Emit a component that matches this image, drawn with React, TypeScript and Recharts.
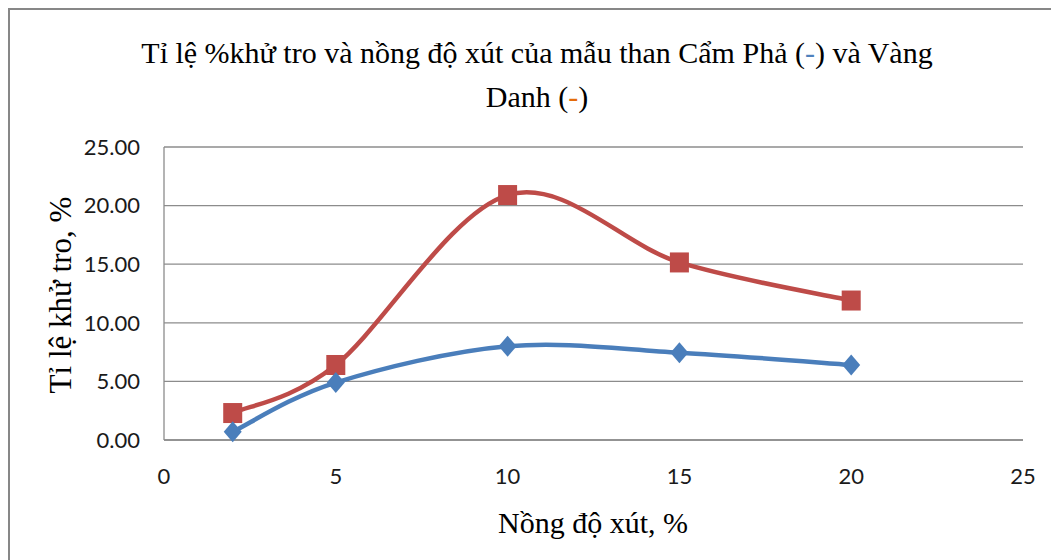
import React from 'react';
import { LineChart, Line, XAxis, YAxis, CartesianGrid } from 'recharts';

const concentrations = [2, 5, 10, 15, 20];
const campha = [0.7, 4.9, 8.0, 7.45, 6.4];
const vangDanh = [2.3, 6.4, 20.9, 15.15, 11.9];
const xTicks = [0, 5, 10, 15, 20, 25];
const yTicks = [0, 5, 10, 15, 20, 25];

const data = concentrations.map((x, i) => ({ x, campha: campha[i], vangDanh: vangDanh[i] }));

const BLUE = '#4A7EBB';
const RED = '#BE4B48';
const GRID = '#8C8C8C';
const SERIF = '"Liberation Serif", "Times New Roman", serif';
const SANS = 'Lato, "Noto Sans", sans-serif';

// Excel-like smoothed line (Catmull-Rom through the points)
const excelSmooth: any = (context: any) => {
  let pts: number[][] = [];
  return {
    areaStart() {},
    areaEnd() {},
    lineStart() {
      pts = [];
    },
    point(x: number, y: number) {
      pts.push([+x, +y]);
    },
    lineEnd() {
      const n = pts.length;
      if (!n) return;
      context.moveTo(pts[0][0], pts[0][1]);
      for (let i = 0; i < n - 1; i++) {
        const p0 = pts[Math.max(i - 1, 0)];
        const p1 = pts[i];
        const p2 = pts[i + 1];
        const p3 = pts[Math.min(i + 2, n - 1)];
        context.bezierCurveTo(
          p1[0] + (p2[0] - p0[0]) / 6,
          p1[1] + (p2[1] - p0[1]) / 6,
          p2[0] - (p3[0] - p1[0]) / 6,
          p2[1] - (p3[1] - p1[1]) / 6,
          p2[0],
          p2[1]
        );
      }
    },
  };
};

const Diamond = (props: any) => {
  const { cx, cy } = props;
  if (cx == null || cy == null) return null;
  const w = 9;
  const h = 10.5;
  return (
    <path
      d={`M${cx},${cy - h} L${cx + w},${cy} L${cx},${cy + h} L${cx - w},${cy} Z`}
      fill={BLUE}
      stroke="none"
    />
  );
};

const Square = (props: any) => {
  const { cx, cy } = props;
  if (cx == null || cy == null) return null;
  const w = 9.5;
  const h = 10;
  return <rect x={cx - w} y={cy - h} width={2 * w} height={2 * h} fill={RED} stroke="none" />;
};

export default function App() {
  return (
    <div
      style={{
        position: 'relative',
        width: 1051,
        height: 552,
        boxSizing: 'border-box',
        borderTop: '2px solid #878787',
        borderLeft: '2px solid #878787',
        background: '#fff',
      }}
    >
      <style>{`html,body{overflow:hidden;}`}</style>
      <LineChart
        width={1049}
        height={550}
        data={data}
        margin={{ top: 137, right: 36, left: 0, bottom: 0 }}
      >
        <CartesianGrid vertical={false} stroke={GRID} strokeWidth={1.3} />
        <XAxis
          type="number"
          dataKey="x"
          domain={[0, 25]}
          ticks={xTicks}
          height={120}
          tickSize={0}
          tickMargin={28}
          axisLine={{ stroke: GRID, strokeWidth: 1.3 }}
          tickLine={false}
          tick={{ fill: '#1a1a1a', fontSize: 22, fontFamily: SANS }}
          interval={0}
        />
        <YAxis
          type="number"
          domain={[0, 25]}
          ticks={yTicks}
          width={154}
          tickSize={0}
          tickMargin={24}
          axisLine={{ stroke: GRID, strokeWidth: 1.3 }}
          tickLine={false}
          tickFormatter={(v: number) => v.toFixed(2)}
          tick={{ fill: '#1a1a1a', fontSize: 22, fontFamily: SANS }}
          interval={0}
        />
        <Line
          dataKey="vangDanh"
          type={excelSmooth}
          stroke={RED}
          strokeWidth={4.5}
          dot={<Square />}
          activeDot={false}
          isAnimationActive={false}
        />
        <Line
          dataKey="campha"
          type={excelSmooth}
          stroke={BLUE}
          strokeWidth={4.5}
          dot={<Diamond />}
          activeDot={false}
          isAnimationActive={false}
        />
      </LineChart>

      <div
        style={{
          position: 'absolute',
          left: 0,
          width: 1054,
          top: 21,
          textAlign: 'center',
          fontFamily: SERIF,
          fontSize: 30,
          lineHeight: '44px',
          color: '#000',
          whiteSpace: 'nowrap',
        }}
      >
        <div>
          Tỉ lệ %khử tro và nồng độ xút của mẫu than Cẩm Phả (<span style={{ color: '#4F81BD' }}>-</span>) và Vàng
        </div>
        <div>
          Danh (<span style={{ color: '#E46C0A' }}>-</span>)
        </div>
      </div>

      <div
        style={{
          position: 'absolute',
          left: 0,
          width: 1166,
          top: 496,
          textAlign: 'center',
          fontFamily: SERIF,
          fontSize: 30,
          lineHeight: '34px',
          color: '#000',
          whiteSpace: 'nowrap',
        }}
      >
        Nồng độ xút, %
      </div>

      <div
        style={{
          position: 'absolute',
          left: 51 - 150,
          top: 285 - 17,
          width: 300,
          height: 34,
          transform: 'rotate(-90deg)',
          textAlign: 'center',
          fontFamily: SERIF,
          fontSize: 31,
          lineHeight: '34px',
          color: '#000',
          whiteSpace: 'nowrap',
        }}
      >
        Tỉ lệ khử tro, %
      </div>
    </div>
  );
}
